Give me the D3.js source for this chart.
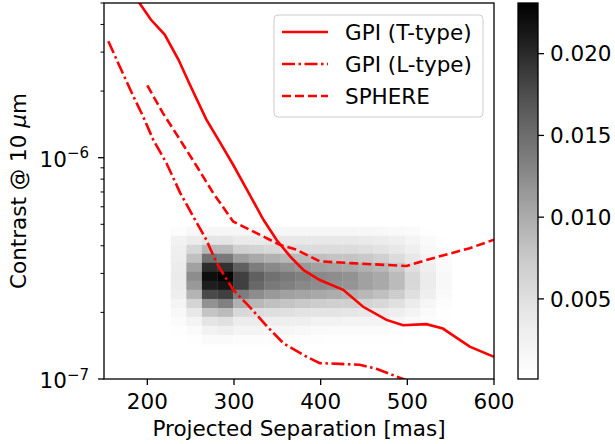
<!DOCTYPE html>
<html>
<head>
<meta charset="utf-8">
<script src="https://cdn.jsdelivr.net/npm/d3@7"></script>
<style>
  body { margin: 0; background: #fff; }
  svg { font-family: "DejaVu Sans", sans-serif; }
  .lbl { font-size: 21.5px; fill: #000; }
</style>
</head>
<body>
<svg id="chart" width="615" height="444"></svg>
<script>
// separation bin edges [mas] and contrast bin edges (top to bottom)
const sepEdges = [227, 245, 263, 281, 299, 317, 335, 353, 371, 389, 407, 425, 443, 461, 479, 497, 515, 533, 551];
const conEdges = [4.88e-7, 4.44e-7, 4.04e-7, 3.68e-7, 3.35e-7, 3.05e-7, 2.78e-7, 2.53e-7, 2.30e-7, 2.09e-7, 1.91e-7, 1.74e-7, 1.58e-7, 1.44e-7];

// density per cell, in units of 1e-3, rows top to bottom
const density = [
  [0.6, 1.35, 1.7, 1.7, 1.7, 1.7, 1.7, 1.7, 1.7, 1.7, 1.7, 1.7, 1.6, 1.4, 1.3, 1.0, 0.3, 0.1],
  [2.5, 3.4, 4.3, 4.3, 3.6, 3.6, 3.9, 3.9, 3.9, 3.9, 3.9, 3.9, 3.6, 3.4, 2.9, 2.1, 1.0, 0.2],
  [3.0, 6.1, 9.0, 8.8, 6.7, 6.3, 5.9, 5.4, 5.4, 5.4, 5.4, 5.4, 5.1, 4.6, 3.9, 2.9, 1.35, 0.4],
  [3.1, 8.3, 14.7, 14.0, 11.1, 10.2, 9.6, 9.0, 8.7, 8.3, 7.9, 7.9, 7.5, 6.7, 5.4, 3.9, 2.1, 0.6],
  [3.4, 10.8, 19.8, 19.5, 16.1, 13.7, 12.7, 12.0, 11.4, 10.8, 10.5, 10.2, 9.6, 9.0, 7.5, 4.9, 2.9, 1.0],
  [3.5, 12.4, 22.0, 23.1, 18.5, 16.1, 14.7, 14.0, 13.4, 12.7, 12.4, 12.0, 10.8, 10.2, 8.7, 5.9, 3.4, 1.35],
  [3.4, 11.4, 20.8, 21.5, 18.5, 15.4, 14.0, 13.4, 12.7, 12.4, 12.0, 11.7, 10.8, 10.2, 8.7, 5.9, 3.4, 1.35],
  [3.1, 9.3, 17.8, 18.5, 13.7, 12.4, 11.4, 10.8, 10.5, 10.2, 9.9, 9.6, 9.0, 8.3, 7.1, 4.9, 2.9, 1.0],
  [2.1, 6.3, 12.0, 13.4, 9.6, 9.0, 8.3, 7.9, 7.5, 7.1, 6.7, 6.7, 6.3, 5.9, 4.9, 3.4, 1.7, 0.6],
  [1.35, 3.9, 7.9, 8.7, 5.9, 5.4, 5.1, 4.9, 4.6, 4.4, 4.4, 4.2, 3.9, 3.6, 3.1, 2.1, 1.0, 0.2],
  [0.8, 2.1, 4.4, 4.9, 3.4, 3.4, 3.1, 2.9, 2.9, 2.5, 2.5, 2.1, 2.1, 2.1, 1.7, 1.0, 0.6, 0.2],
  [0.2, 1.0, 2.5, 2.9, 2.1, 2.1, 1.7, 1.7, 1.35, 1.0, 1.0, 1.0, 1.0, 1.0, 0.6, 0.4, 0.2, 0.1],
  [0.1, 0.2, 1.0, 1.0, 0.6, 0.6, 0.6, 0.6, 0.4, 0.4, 0.2, 0.2, 0.2, 0.2, 0.2, 0.1, 0.1, 0.1]
];

// contrast curves
const gpiTSep = [185, 204, 220, 236, 249, 268, 284, 299, 315, 334, 349, 365, 380, 399, 426, 449, 476, 495, 522, 541, 572, 600];
const gpiTCon = [5.4e-6, 4.21e-6, 3.60e-6, 2.77e-6, 2.14e-6, 1.49e-6, 1.17e-6, 9.29e-7, 7.16e-7, 5.24e-7, 4.26e-7, 3.57e-7, 3.11e-7, 2.80e-7, 2.53e-7, 2.12e-7, 1.85e-7, 1.75e-7, 1.77e-7, 1.69e-7, 1.40e-7, 1.26e-7];

const gpiLSep = [155, 168, 184, 195, 207, 222, 238, 253, 268, 280, 299, 318, 338, 357, 384, 399, 422, 445, 465, 495, 526];
const gpiLCon = [3.36e-6, 2.59e-6, 1.89e-6, 1.54e-6, 1.20e-6, 9.46e-7, 6.92e-7, 5.42e-7, 4.26e-7, 3.34e-7, 2.53e-7, 2.12e-7, 1.73e-7, 1.45e-7, 1.26e-7, 1.18e-7, 1.17e-7, 1.16e-7, 1.11e-7, 1.0e-7, 9.0e-8];

const sphereSep = [200, 218, 238, 257, 276, 299, 326, 353, 372, 399, 434, 499, 522, 572, 600];
const sphereCon = [2.12e-6, 1.59e-6, 1.20e-6, 9.15e-7, 6.92e-7, 5.15e-7, 4.56e-7, 4.04e-7, 3.84e-7, 3.40e-7, 3.34e-7, 3.24e-7, 3.45e-7, 3.90e-7, 4.26e-7];

const xTicks = [200, 300, 400, 500, 600];
const yMajor = [{ v: 1e-7, exp: "\u22127" }, { v: 1e-6, exp: "\u22126" }];
const yMinor = [2e-7, 3e-7, 4e-7, 5e-7, 6e-7, 7e-7, 8e-7, 9e-7, 2e-6, 3e-6, 4e-6, 5e-6];
const cbTicks = [0.005, 0.010, 0.015, 0.020];
const cbRange = [0.0001, 0.0231];

const series = [
  { name: "GPI (T-type)", sep: gpiTSep, con: gpiTCon, dash: null },
  { name: "GPI (L-type)", sep: gpiLSep, con: gpiLCon, dash: "13,3.5,2.5,3.5" },
  { name: "SPHERE", sep: sphereSep, con: sphereCon, dash: "9,4" }
];

const svg = d3.select("#chart");
const PLOT = { left: 104, right: 494, top: 3, bottom: 379 };

const x = d3.scaleLinear([150, 600], [PLOT.left, PLOT.right]);
const y = d3.scaleLog([1e-7, 5e-6], [PLOT.bottom, PLOT.top]);
const cb = d3.scaleLinear(cbRange, [PLOT.bottom, PLOT.top]);
const color = (v) => d3.interpolateGreys((v - cbRange[0]) / (cbRange[1] - cbRange[0]));

svg.append("defs")
  .append("clipPath")
  .attr("id", "plotclip")
  .append("rect")
  .attr("x", PLOT.left)
  .attr("y", PLOT.top)
  .attr("width", PLOT.right - PLOT.left)
  .attr("height", PLOT.bottom - PLOT.top);

// heatmap
const cells = [];
density.forEach((row, r) =>
  row.forEach((d, c) => {
    if (d > 0) cells.push({ r, c, v: d * 1e-3 });
  })
);
svg.append("g")
  .attr("clip-path", "url(#plotclip)")
  .selectAll("rect")
  .data(cells)
  .join("rect")
  .attr("x", (d) => x(sepEdges[d.c]))
  .attr("width", (d) => x(sepEdges[d.c + 1]) - x(sepEdges[d.c]) + 0.3)
  .attr("y", (d) => y(conEdges[d.r]))
  .attr("height", (d) => y(conEdges[d.r + 1]) - y(conEdges[d.r]) + 0.3)
  .attr("fill", (d) => color(d.v));

// curves
const line = d3.line()
  .x((d) => x(d[0]))
  .y((d) => y(d[1]));

svg.append("g")
  .attr("clip-path", "url(#plotclip)")
  .selectAll("path")
  .data(series)
  .join("path")
  .attr("d", (s) => line(d3.zip(s.sep, s.con)))
  .attr("fill", "none")
  .attr("stroke", "#ff0000")
  .attr("stroke-width", 2.6)
  .attr("stroke-dasharray", (s) => s.dash);

// frame
svg.append("rect")
  .attr("x", PLOT.left)
  .attr("y", PLOT.top)
  .attr("width", PLOT.right - PLOT.left)
  .attr("height", PLOT.bottom - PLOT.top)
  .attr("fill", "none")
  .attr("stroke", "#000")
  .attr("stroke-width", 1.3);

// x axis
const xg = svg.append("g");
xg.selectAll("line")
  .data(xTicks)
  .join("line")
  .attr("x1", (d) => x(d))
  .attr("x2", (d) => x(d))
  .attr("y1", PLOT.bottom)
  .attr("y2", PLOT.bottom + 6)
  .attr("stroke", "#000")
  .attr("stroke-width", 1.3);
xg.selectAll("text")
  .data(xTicks)
  .join("text")
  .attr("class", "lbl")
  .attr("x", (d) => x(d))
  .attr("y", PLOT.bottom + 30)
  .attr("text-anchor", "middle")
  .text((d) => d);

svg.append("text")
  .attr("class", "lbl")
  .attr("x", (PLOT.left + PLOT.right) / 2)
  .attr("y", 436)
  .attr("text-anchor", "middle")
  .text("Projected Separation [mas]");

// y axis (log)
const yg = svg.append("g");
yg.selectAll("line.minor")
  .data(yMinor)
  .join("line")
  .attr("class", "minor")
  .attr("x1", PLOT.left - 3.5)
  .attr("x2", PLOT.left)
  .attr("y1", (d) => y(d))
  .attr("y2", (d) => y(d))
  .attr("stroke", "#000")
  .attr("stroke-width", 1);
yg.selectAll("line.major")
  .data(yMajor)
  .join("line")
  .attr("class", "major")
  .attr("x1", PLOT.left - 6)
  .attr("x2", PLOT.left)
  .attr("y1", (d) => y(d.v))
  .attr("y2", (d) => y(d.v))
  .attr("stroke", "#000")
  .attr("stroke-width", 1.3);
const ylab = yg.selectAll("text")
  .data(yMajor)
  .join("text")
  .attr("class", "lbl")
  .attr("x", 89)
  .attr("y", (d) => y(d.v) + 9)
  .attr("text-anchor", "end");
ylab.append("tspan").text("10");
ylab.append("tspan")
  .attr("font-size", "15px")
  .attr("dy", -8.5)
  .text((d) => d.exp);

const yt = svg.append("text")
  .attr("class", "lbl")
  .attr("transform", `translate(26,${(PLOT.top + PLOT.bottom) / 2}) rotate(-90)`)
  .attr("text-anchor", "middle");
yt.append("tspan").text("Contrast @ 10 ");
yt.append("tspan").attr("font-style", "italic").text("\u03bc");
yt.append("tspan").text("m");

// legend
const lg = svg.append("g");
lg.append("rect")
  .attr("x", 274)
  .attr("y", 15)
  .attr("width", 209)
  .attr("height", 102)
  .attr("rx", 4)
  .attr("fill", "#fff")
  .attr("fill-opacity", 0.8)
  .attr("stroke", "#cccccc")
  .attr("stroke-width", 1);
const items = lg.selectAll("g.item")
  .data(series)
  .join("g")
  .attr("class", "item")
  .attr("transform", (d, i) => `translate(0,${32 + i * 32})`);
items.append("line")
  .attr("x1", 282)
  .attr("x2", 328)
  .attr("stroke", "#ff0000")
  .attr("stroke-width", 2.6)
  .attr("stroke-dasharray", (s) => s.dash);
items.append("text")
  .attr("class", "lbl")
  .attr("x", 345)
  .attr("y", 7.5)
  .text((s) => s.name);

// colorbar
const CB = { left: 518, right: 538 };
const grad = svg.select("defs")
  .append("linearGradient")
  .attr("id", "cbgrad")
  .attr("x1", 0).attr("y1", 1)
  .attr("x2", 0).attr("y2", 0);
grad.selectAll("stop")
  .data(d3.range(0, 1.0001, 0.05))
  .join("stop")
  .attr("offset", (t) => t)
  .attr("stop-color", (t) => d3.interpolateGreys(t));
svg.append("rect")
  .attr("x", CB.left)
  .attr("y", PLOT.top)
  .attr("width", CB.right - CB.left)
  .attr("height", PLOT.bottom - PLOT.top)
  .attr("fill", "url(#cbgrad)")
  .attr("stroke", "#000")
  .attr("stroke-width", 1.3);
const cg = svg.append("g");
cg.selectAll("line")
  .data(cbTicks)
  .join("line")
  .attr("x1", CB.right)
  .attr("x2", CB.right + 6)
  .attr("y1", (d) => cb(d))
  .attr("y2", (d) => cb(d))
  .attr("stroke", "#000")
  .attr("stroke-width", 1.3);
cg.selectAll("text")
  .data(cbTicks)
  .join("text")
  .attr("class", "lbl")
  .attr("x", 550)
  .attr("y", (d) => cb(d) + 7.8)
  .text((d) => d3.format(".3f")(d));
</script>
</body>
</html>
